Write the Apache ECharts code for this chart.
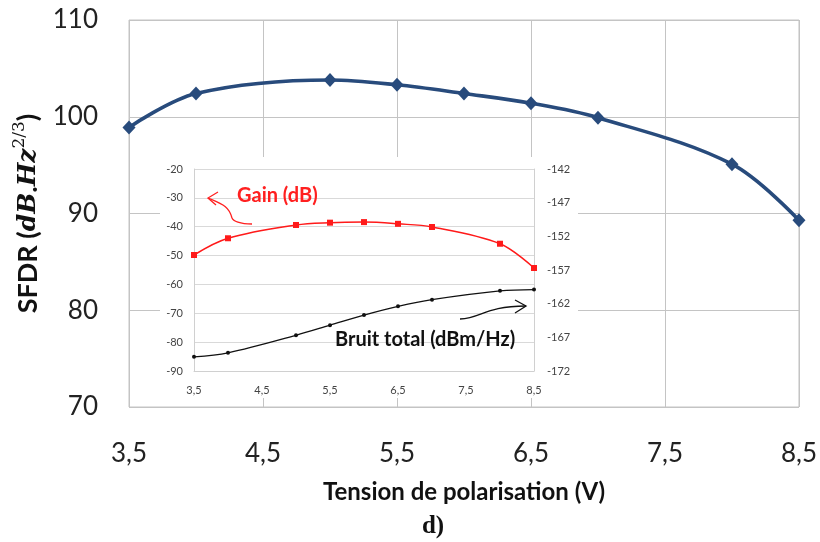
<!DOCTYPE html>
<html>
<head>
<meta charset="utf-8">
<script src="https://cdn.jsdelivr.net/npm/echarts@6/dist/echarts.min.js"></script>
<style>html,body{margin:0;padding:0;background:#fff}#c{width:820px;height:542px}</style>
</head>
<body>
<div id="c"></div>
<script>
// Main chart: SFDR vs bias voltage
const mainX = [3.5, 4.0, 5.0, 5.5, 6.0, 6.5, 7.0, 8.0, 8.5];
const sfdr  = [98.9, 102.4, 103.8, 103.3, 102.4, 101.4, 99.9, 95.1, 89.3];
// Inset: gain (left axis) and total noise (right axis)
const insetX = [3.5, 4.0, 5.0, 5.5, 6.0, 6.5, 7.0, 8.0, 8.5];
const gain   = [-49.8, -44.0, -39.4, -38.6, -38.4, -39.0, -40.1, -45.9, -54.3];
const bruit  = [-169.9, -169.3, -166.7, -165.2, -163.7, -162.4, -161.4, -160.1, -159.9];
// Tick labels
const mainYTicks = [70, 80, 90, 100, 110];
const insetLeftTicks = [-90, -80, -70, -60, -50, -40, -30, -20];
const insetRightTicks = [-172, -167, -162, -157, -152, -147, -142];

const pairs = (xs, ys) => xs.map((x, i) => [x, ys[i]]);
const comma = v => String(v).replace('.', ',');
const FONT = 'Lato';

const chart = echarts.init(document.getElementById('c'), null, {renderer: 'canvas'});
chart.setOption({
  animation: false,
  backgroundColor: '#ffffff',
  grid: [
    {left: 129, right: 20, top: 20, bottom: 135, show: true, borderColor: '#c4c4c4', borderWidth: 1},
    {left: 194, right: 286, top: 169, bottom: 171, show: false, z: 20}
  ],
  xAxis: [
    {
      gridIndex: 0, type: 'value', min: 3.5, max: 8.5, interval: 1,
      axisLine: {show: false}, axisTick: {show: false},
      splitLine: {show: true, lineStyle: {color: '#c4c4c4', width: 1}},
      axisLabel: {formatter: comma, fontFamily: FONT, fontSize: 26, color: '#222', margin: 34},
      name: 'Tension de polarisation (V)', nameLocation: 'middle', nameGap: 73,
      nameTextStyle: {fontFamily: FONT, fontWeight: 'bold', fontSize: 24, color: '#111'}
    },
    {
      gridIndex: 1, type: 'value', min: 3.5, max: 8.5, interval: 1, z: 20,
      axisLine: {show: true, lineStyle: {color: '#d0d0d0'}}, axisTick: {show: false},
      splitLine: {show: false},
      axisLabel: {formatter: comma, fontFamily: FONT, fontSize: 11, color: '#444', margin: 14}
    }
  ],
  yAxis: [
    {
      gridIndex: 0, type: 'value', min: mainYTicks[0], max: mainYTicks[mainYTicks.length - 1], interval: 10,
      axisLine: {show: false}, axisTick: {show: false},
      splitLine: {show: true, lineStyle: {color: '#c4c4c4', width: 1}},
      axisLabel: {fontFamily: FONT, fontSize: 26, color: '#222', margin: 31},
      name: '{b|SFDR (}{m|dB}{b|.}{m|Hz}{s|2/3}{b|)}',
      nameLocation: 'middle', nameRotate: 90, nameGap: 84,
      nameTextStyle: {
        rich: {
          b: {fontFamily: FONT, fontWeight: 'bold', fontSize: 27, color: '#111', lineHeight: 34},
          m: {fontFamily: 'DejaVu Serif', fontStyle: 'italic', fontWeight: 'bold', fontSize: 25, color: '#111', lineHeight: 34},
          s: {fontFamily: 'DejaVu Serif', fontSize: 17, color: '#111', verticalAlign: 'top', lineHeight: 34}
        }
      }
    },
    {
      gridIndex: 1, type: 'value', min: insetLeftTicks[0], max: insetLeftTicks[insetLeftTicks.length - 1], interval: 10, z: 20,
      axisLine: {show: true, lineStyle: {color: '#d0d0d0'}}, axisTick: {show: false},
      splitLine: {show: true, lineStyle: {color: '#d9d9d9'}},
      axisLabel: {fontFamily: FONT, fontSize: 11, color: '#444', margin: 11}
    },
    {
      gridIndex: 1, type: 'value', position: 'right',
      min: insetRightTicks[0], max: insetRightTicks[insetRightTicks.length - 1], interval: 5, z: 20,
      axisLine: {show: true, lineStyle: {color: '#d0d0d0'}}, axisTick: {show: false},
      splitLine: {show: false},
      axisLabel: {fontFamily: FONT, fontSize: 11, color: '#444', margin: 13}
    }
  ],
  graphic: [
    {type: 'rect', z: 10, shape: {x: 160, y: 157, width: 418, height: 241}, style: {fill: '#ffffff'}},
    {type: 'text', z: 40, style: {text: 'Gain (dB)', x: 237, y: 196, fill: '#ff2020', font: 'bold 20px Lato', textVerticalAlign: 'middle'}},
    {type: 'bezierCurve', z: 40, shape: {x1: 252, y1: 224, x2: 232, y2: 218, cpx1: 240, cpy1: 224, cpx2: 233, cpy2: 221}, style: {stroke: '#ff2020', lineWidth: 1.3, fill: 'none'}},
    {type: 'bezierCurve', z: 40, shape: {x1: 232, y1: 218, x2: 208, y2: 198, cpx1: 229, cpy1: 206, cpx2: 222, cpy2: 204}, style: {stroke: '#ff2020', lineWidth: 1.3, fill: 'none'}},
    {type: 'polyline', z: 40, shape: {points: [[218, 192], [208, 198], [216, 205]]}, style: {stroke: '#ff2020', lineWidth: 1.3, fill: 'none'}},
    {type: 'text', z: 40, style: {text: 'Bruit total (dBm/Hz)', x: 335, y: 340, fill: '#111', font: 'bold 20px Lato', textVerticalAlign: 'middle'}},
    {type: 'bezierCurve', z: 40, shape: {x1: 460, y1: 319, x2: 526, y2: 306, cpx1: 482, cpy1: 318, cpx2: 485, cpy2: 306}, style: {stroke: '#111', lineWidth: 1.3, fill: 'none'}},
    {type: 'polyline', z: 40, shape: {points: [[515, 300], [526, 306], [515, 313]]}, style: {stroke: '#111', lineWidth: 1.3, fill: 'none'}},
    {type: 'text', z: 40, style: {text: 'd)', x: 433, y: 527, fill: '#111', font: 'bold 25px "Liberation Serif"', textAlign: 'center', textVerticalAlign: 'middle'}}
  ],
  series: [
    {
      type: 'line', xAxisIndex: 0, yAxisIndex: 0, data: pairs(mainX, sfdr), smooth: 0.35,
      symbol: 'diamond', symbolSize: [13, 14],
      lineStyle: {color: '#284b7c', width: 3.6}, itemStyle: {color: '#284b7c'}, z: 5
    },
    {
      type: 'line', xAxisIndex: 1, yAxisIndex: 1, data: pairs(insetX, gain), smooth: 0.35,
      symbol: 'rect', symbolSize: 6,
      lineStyle: {color: '#ff1a1a', width: 1.5}, itemStyle: {color: '#ff1a1a'}, z: 30
    },
    {
      type: 'line', xAxisIndex: 1, yAxisIndex: 2, data: pairs(insetX, bruit), smooth: 0.35,
      symbol: 'circle', symbolSize: 4,
      lineStyle: {color: '#111', width: 1.3}, itemStyle: {color: '#111'}, z: 30
    }
  ]
});
</script>
</body>
</html>
